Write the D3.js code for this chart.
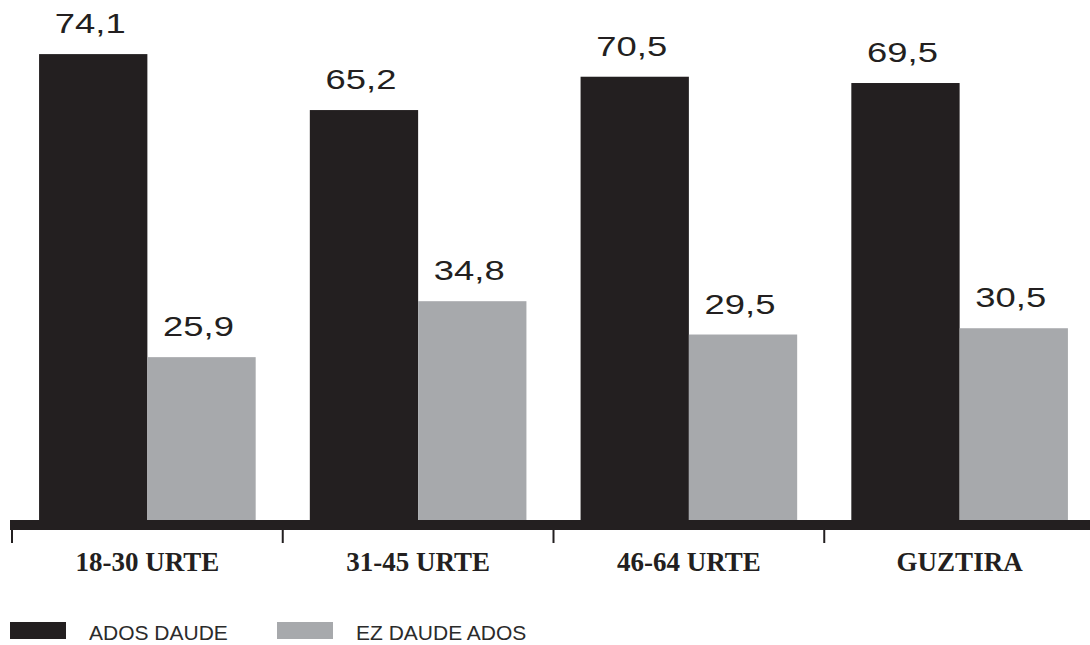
<!DOCTYPE html>
<html>
<head>
<meta charset="utf-8">
<script src="https://cdn.jsdelivr.net/npm/d3@7"></script>
<style>
  html, body { margin: 0; padding: 0; background: #fff; }
  svg { display: block; }
</style>
</head>
<body>
<svg id="chart" width="1090" height="645"></svg>
<script>
const categories = ["18-30 URTE", "31-45 URTE", "46-64 URTE", "GUZTIRA"];
const seriesNames = ["ADOS DAUDE", "EZ DAUDE ADOS"];
const adosDaude = [74.1, 65.2, 70.5, 69.5];
const ezDaudeAdos = [25.9, 34.8, 29.5, 30.5];
const seriesValues = [adosDaude, ezDaudeAdos];
const colors = ["#231f20", "#a7a9ac"];

const svg = d3.select("#chart");
const baseY = 520;

const x0 = d3.scaleBand()
  .domain(categories)
  .range([12, 1095])
  .paddingInner(0.2)
  .paddingOuter(0.1);

const x1 = d3.scaleBand()
  .domain(seriesNames)
  .range([0, x0.bandwidth()])
  .padding(0);

const y = d3.scaleLinear().domain([0, 80]).range([baseY, 17]);

const fmt = v => v.toFixed(1).replace(".", ",");

const data = [];
categories.forEach((c, i) => {
  seriesNames.forEach((s, j) => {
    data.push({ cat: c, series: s, value: seriesValues[j][i], color: colors[j] });
  });
});

// bars
svg.append("g").selectAll("rect").data(data).join("rect")
  .attr("x", d => x0(d.cat) + x1(d.series))
  .attr("y", d => y(d.value))
  .attr("width", x1.bandwidth())
  .attr("height", d => baseY - y(d.value))
  .attr("fill", d => d.color);

// value labels
svg.append("g").selectAll("text").data(data).join("text")
  .attr("transform", d => {
    const cx = x0(d.cat) + x1(d.series) + x1.bandwidth() / 2 - 3;
    return `translate(${cx},${y(d.value) - 21}) scale(1.3,1)`;
  })
  .attr("text-anchor", "middle")
  .attr("font-family", "'Liberation Sans', Arial, sans-serif")
  .attr("font-size", 28)
  .attr("fill", "#231f20")
  .text(d => fmt(d.value));

// axis band
svg.append("rect")
  .attr("x", 10).attr("y", baseY)
  .attr("width", 1080).attr("height", 10)
  .attr("fill", "#231f20");

// ticks (group boundaries)
const step = x0.step();
const tickXs = categories.map(c => x0(c) - x0.paddingOuter() * step);
svg.append("g").selectAll("line").data(tickXs).join("line")
  .attr("x1", d => d).attr("x2", d => d)
  .attr("y1", baseY + 10).attr("y2", baseY + 23)
  .attr("stroke", "#231f20").attr("stroke-width", 2);

// category labels
svg.append("g").selectAll("text").data(categories).join("text")
  .attr("x", d => x0(d) + x0.bandwidth() / 2)
  .attr("y", 571)
  .attr("text-anchor", "middle")
  .attr("font-family", "'Liberation Serif', 'Times New Roman', serif")
  .attr("font-weight", "bold")
  .attr("font-size", 27)
  .attr("fill", "#231f20")
  .text(d => d);

// legend
const legendX = [10, 277];
const lg = svg.append("g").selectAll("g").data(seriesNames).join("g")
  .attr("transform", (d, i) => `translate(${legendX[i]},622)`);
lg.append("rect")
  .attr("width", 56).attr("height", 17)
  .attr("fill", (d, i) => colors[i]);
lg.append("text")
  .attr("x", 79).attr("y", 18)
  .attr("font-family", "'Liberation Sans', Arial, sans-serif")
  .attr("font-size", 21)
  .attr("fill", "#2b2b2b")
  .text(d => d);
</script>
</body>
</html>
